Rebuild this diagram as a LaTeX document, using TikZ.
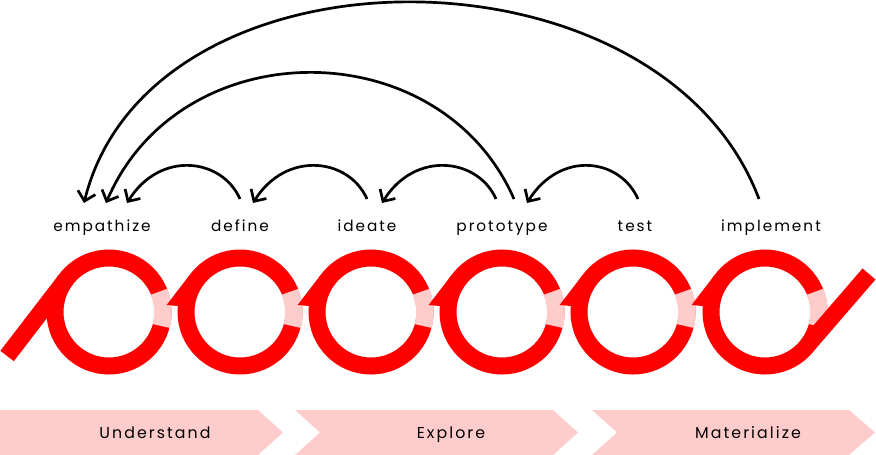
\documentclass[tikz,border=0pt]{standalone}
\usepackage{fontspec}
\setmainfont{Poppins}[LetterSpace=13]
\usetikzlibrary{arrows.meta}
\definecolor{ringred}{RGB}{255,0,0}
\definecolor{ringpink}{RGB}{255,204,204}
\begin{document}
\begin{tikzpicture}[x=1pt,y=-1pt,
  ring/.style={draw=ringred, line width=17pt},
  fade/.style={draw=ringpink, line width=17.5pt},
  spike/.style={fill=ringred, draw=none},
  band/.style={fill=ringpink, draw=none},
  lbl/.style={font=\fontsize{15.3}{17}\selectfont, text=black, inner sep=0pt, anchor=base},
  phase/.style={font=\fontsize{15.8}{18}\selectfont, text=black, inner sep=0pt, anchor=base},
  jump/.style={draw=black, line width=2.7pt, -{Straight Barb[length=9pt,width=18pt]}},
]
\useasboundingbox (0,0) rectangle (876,455);

% phase chevrons
\fill[band] (0,410) -- (258,410) -- (283,432.5) -- (258,455) -- (0,455) -- cycle;
\fill[band] (295,410) -- (553,410) -- (578,432.5) -- (553,455) -- (295,455) -- (320,432.5) -- cycle;
\fill[band] (592,410) -- (849,410) -- (875,432.5) -- (849,455) -- (592,455) -- (617,432.5) -- cycle;
\node[phase] (und) at (155,438.5) {Understand};
\node[phase] (exp) at (451,438.5) {Explore};
\node[phase] (mat) at (748,438.5) {Materialize};

% loops
\foreach \c [count=\i] in {109,240,371,502,633,765} {
  \coordinate (c\i) at (\c,312);
  \draw[ring] (c\i) circle[radius=54];
  \draw[fade] ([shift={(c\i)}]15:54) arc[start angle=15, end angle=-22, radius=54];
}
\foreach \c in {240,371,502,633,765} {
  \fill[spike] (\c-73.4,305) -- (\c-49.6,274) -- (\c-62.2,306) -- cycle;
}
\coordinate (d0) at (7.1,356);
\coordinate (t1) at (66.2,279.1);
\draw[ring] (d0) -- (t1);
\coordinate (t6) at (807.8,344.9);
\coordinate (d7) at (869,274);
\draw[ring] (t6) -- (d7);

% stage labels
\node[lbl] (emp) at (102,231) {empathize};
\node[lbl] (def) at (240,231) {define};
\node[lbl] (ide) at (367,231) {ideate};
\node[lbl] (pro) at (502,231) {prototype};
\node[lbl] (tst) at (635,231) {test};
\node[lbl] (imp) at (771,231) {implement};

% arc end points
\coordinate (defS) at (240,199);
\coordinate (empA) at (127,203);
\coordinate (ideS) at (367,199);
\coordinate (defA) at (253,203);
\coordinate (proS) at (496,199);
\coordinate (ideA) at (382,203);
\coordinate (tstS) at (638,199);
\coordinate (proA) at (527,203);
\coordinate (proL) at (514,199);
\coordinate (empB) at (106,203);
\coordinate (impS) at (759,199);
\coordinate (empC) at (84,203);

\draw[jump] (defS) .. controls (222,158) and (160,150) .. (empA);
\draw[jump] (ideS) .. controls (349,158) and (286,150) .. (defA);
\draw[jump] (proS) .. controls (478,158) and (415,150) .. (ideA);
\draw[jump] (tstS) .. controls (620,158) and (560,150) .. (proA);
\draw[jump] (proL) .. controls (440,30) and (180,30) .. (empB);
\draw[jump] (impS) .. controls (660,-64) and (150,-64) .. (empC);
\end{tikzpicture}
\end{document}
